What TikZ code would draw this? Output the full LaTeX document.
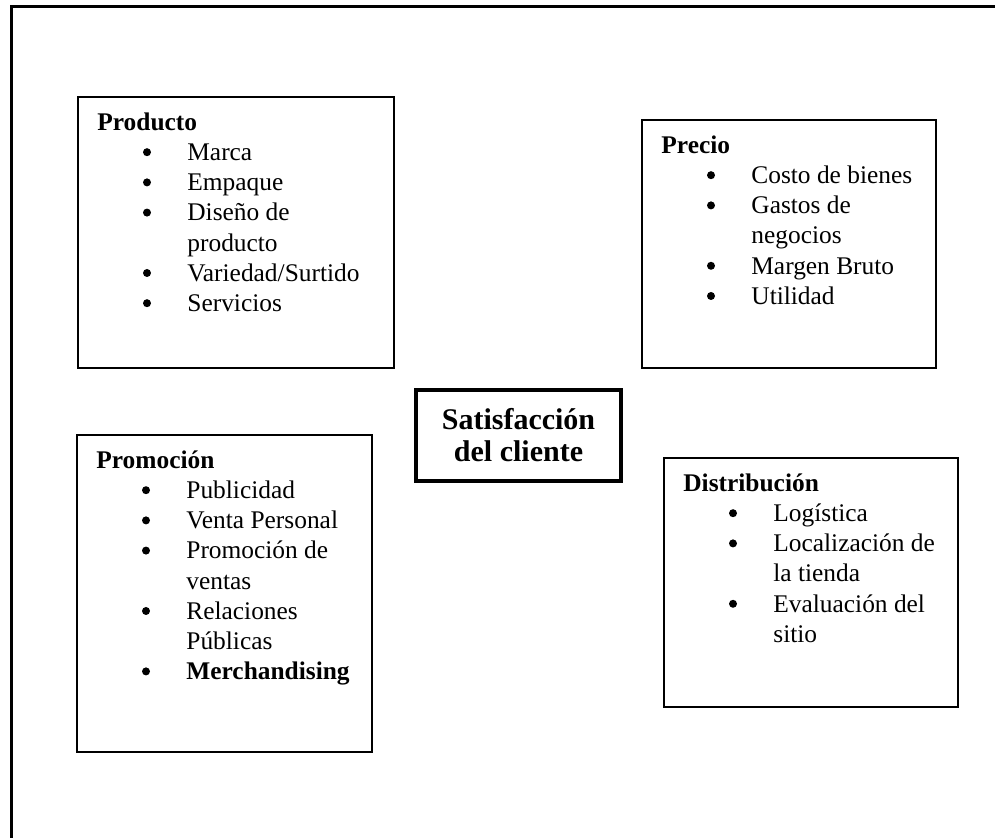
\documentclass[tikz,border=0pt]{standalone}
\usepackage{fontspec}
\setmainfont{Liberation Serif}
\usetikzlibrary{positioning}

\newcommand{\bulletdot}{\raisebox{2.2pt}{\tikz\fill (0,0) circle (2pt);}}
\newcommand{\itm}[1]{\hspace*{22.8pt}\makebox[22.2pt][l]{\bulletdot}#1}
\newcommand{\cont}[1]{\hspace*{45pt}#1}

\begin{document}
\begin{tikzpicture}[
    x=0.5pt, y=0.5pt,
    box/.style={rectangle, draw, line width=1pt, inner sep=0pt},
    keybox/.style={rectangle, draw, line width=1.6pt, align=center, font=\fontsize{15}{16}\selectfont\bfseries, minimum width=102.5pt, minimum height=45.5pt},
    list/.style={anchor=north west, inner sep=0pt, align=left, font=\fontsize{12.7}{15.1}\selectfont},
    frame/.style={line width=1.6pt}
]
\useasboundingbox (0,0) rectangle (995,838);
\draw[frame] (11.5,0) |- (995,831.3);

\node[keybox] (sat) at (518.5,402.5) {Satisfacción\\del cliente};

\node[box, minimum width=158pt, minimum height=135.5pt] (prod) at (236,605.5) {};
\node[box, minimum width=147pt, minimum height=124pt] (prec) at (789,594) {};
\node[box, minimum width=147.5pt, minimum height=158.5pt] (prom) at (224.5,244.5) {};
\node[box, minimum width=147pt, minimum height=124.5pt] (dist) at (811,255.5) {};

\node[list] (prodlist) at ([xshift=10pt]prod.north west) {\rule{0pt}{17pt}\textbf{Producto}\\
  \itm{Marca}\\
  \itm{Empaque}\\
  \itm{Diseño de}\\
  \cont{producto}\\
  \itm{Variedad/Surtido}\\
  \itm{Servicios}};

\node[list] (preclist) at ([xshift=10pt]prec.north west) {\rule{0pt}{17pt}\textbf{Precio}\\
  \itm{Costo de bienes}\\
  \itm{Gastos de}\\
  \cont{negocios}\\
  \itm{Margen Bruto}\\
  \itm{Utilidad}};

\node[list] (promlist) at ([xshift=10pt]prom.north west) {\rule{0pt}{17pt}\textbf{Promoción}\\
  \itm{Publicidad}\\
  \itm{Venta Personal}\\
  \itm{Promoción de}\\
  \cont{ventas}\\
  \itm{Relaciones}\\
  \cont{Públicas}\\
  \itm{\textbf{Merchandising}}};

\node[list] (distlist) at ([xshift=10pt]dist.north west) {\rule{0pt}{17pt}\textbf{Distribución}\\
  \itm{Logística}\\
  \itm{Localización de}\\
  \cont{la tienda}\\
  \itm{Evaluación del}\\
  \cont{sitio}};
\end{tikzpicture}
\end{document}
